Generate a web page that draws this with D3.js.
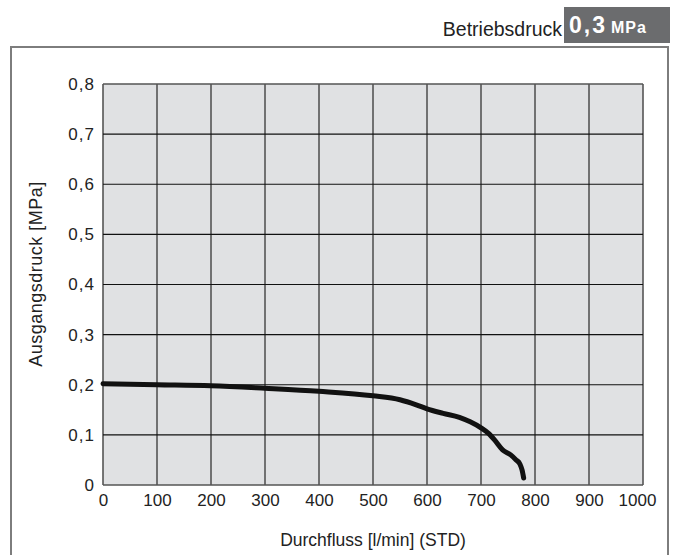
<!DOCTYPE html>
<html>
<head>
<meta charset="utf-8">
<script src="https://cdn.jsdelivr.net/npm/d3@7"></script>
<style>
  body { margin: 0; background: #fff; }
  text { font-family: "Liberation Sans", Arial, sans-serif; }
</style>
</head>
<body>
<div id="chart"></div>
<script>
// curve
const flow = [0, 50, 100, 200, 300, 400, 500, 550, 580, 600, 630, 660, 680, 700, 715, 725, 740, 755, 765, 772, 776, 779];
const pressure = [0.202, 0.201, 0.200, 0.198, 0.193, 0.187, 0.178, 0.170, 0.160, 0.152, 0.143, 0.135, 0.126, 0.114, 0.102, 0.090, 0.070, 0.060, 0.050, 0.042, 0.030, 0.014];
const xTicks = [0, 100, 200, 300, 400, 500, 600, 700, 800, 900, 1000];
const yTicks = [0, 0.1, 0.2, 0.3, 0.4, 0.5, 0.6, 0.7, 0.8];

const W = 677, H = 555;
const margin = {top: 84, right: 34, bottom: 70, left: 103};
const width = 643 - margin.left, height = 485 - margin.top;

const svg = d3.select("#chart").append("svg")
    .attr("width", W).attr("height", H);

// outer frame (bottom edge runs off the picture)
svg.append("rect")
    .attr("x", 11).attr("y", 47).attr("width", 657).attr("height", 540)
    .attr("fill", "none").attr("stroke", "#7d7d7d").attr("stroke-width", 2);

// operating pressure label
svg.append("text").attr("x", 562).attr("y", 36)
    .attr("text-anchor", "end").attr("font-size", 19.5).attr("fill", "#222")
    .text("Betriebsdruck");
svg.append("rect").attr("x", 564).attr("y", 7).attr("width", 106).attr("height", 36)
    .attr("fill", "#6b6c6e");
const lab = svg.append("text").attr("x", 569).attr("y", 33).attr("fill", "#fff").attr("font-weight", "bold");
lab.append("tspan").attr("font-size", 23).attr("letter-spacing", 2).text("0,3");
lab.append("tspan").attr("font-size", 16).attr("dx", 4).attr("letter-spacing", 1).text("MPa");

const g = svg.append("g").attr("transform", `translate(${margin.left},${margin.top})`);

const x = d3.scaleLinear().domain([0, 1000]).range([0, width]);
const y = d3.scaleLinear().domain([0, 0.8]).range([height, 0]);

g.append("rect").attr("width", width).attr("height", height).attr("fill", "#e0e1e3");

// grid
g.selectAll(".vg").data(xTicks).enter().append("line")
    .attr("x1", d => x(d)).attr("x2", d => x(d))
    .attr("y1", 0).attr("y2", height)
    .attr("stroke", "#555").attr("stroke-width", 1.6);
g.selectAll(".hg").data(yTicks).enter().append("line")
    .attr("x1", 0).attr("x2", width)
    .attr("y1", d => y(d)).attr("y2", d => y(d))
    .attr("stroke", d => d === 0 || d === 0.8 ? "#555" : "#111")
    .attr("stroke-width", d => d === 0 || d === 0.8 ? 1.6 : 1.2);

// axes labels
const fmt = d => d === 0 ? "0" : d3.format(".1f")(d).replace(".", ",");
g.append("g")
    .call(d3.axisLeft(y).tickValues(yTicks).tickFormat(fmt).tickSize(0).tickPadding(8))
    .call(a => a.select(".domain").remove())
    .selectAll("text").attr("font-size", 17).attr("letter-spacing", 1).attr("fill", "#222")
    .attr("font-family", "Liberation Sans, Arial, sans-serif");
g.append("g").attr("transform", `translate(0,${height})`)
    .call(d3.axisBottom(x).tickValues(xTicks).tickFormat(d3.format("d")).tickSize(0).tickPadding(9))
    .call(a => a.select(".domain").remove())
    .selectAll("text").attr("font-size", 17).attr("fill", "#222")
    .attr("dx", d => d === 1000 ? -6 : 0)
    .attr("font-family", "Liberation Sans, Arial, sans-serif");

// titles
svg.append("text").attr("x", 373).attr("y", 546).attr("text-anchor", "middle")
    .attr("font-size", 17.5).attr("fill", "#222").text("Durchfluss [l/min] (STD)");
svg.append("text").attr("transform", "translate(42,274) rotate(-90)")
    .attr("text-anchor", "middle").attr("font-size", 18).attr("letter-spacing", 0.5).attr("fill", "#222")
    .text("Ausgangsdruck [MPa]");

// curve
const pts = flow.map((f, i) => [f, pressure[i]]);
g.append("path").datum(pts)
    .attr("fill", "none").attr("stroke", "#111").attr("stroke-width", 5)
    .attr("stroke-linejoin", "round").attr("stroke-linecap", "round")
    .attr("d", d3.line().x(d => x(d[0])).y(d => y(d[1])).curve(d3.curveMonotoneX));
</script>
</body>
</html>
